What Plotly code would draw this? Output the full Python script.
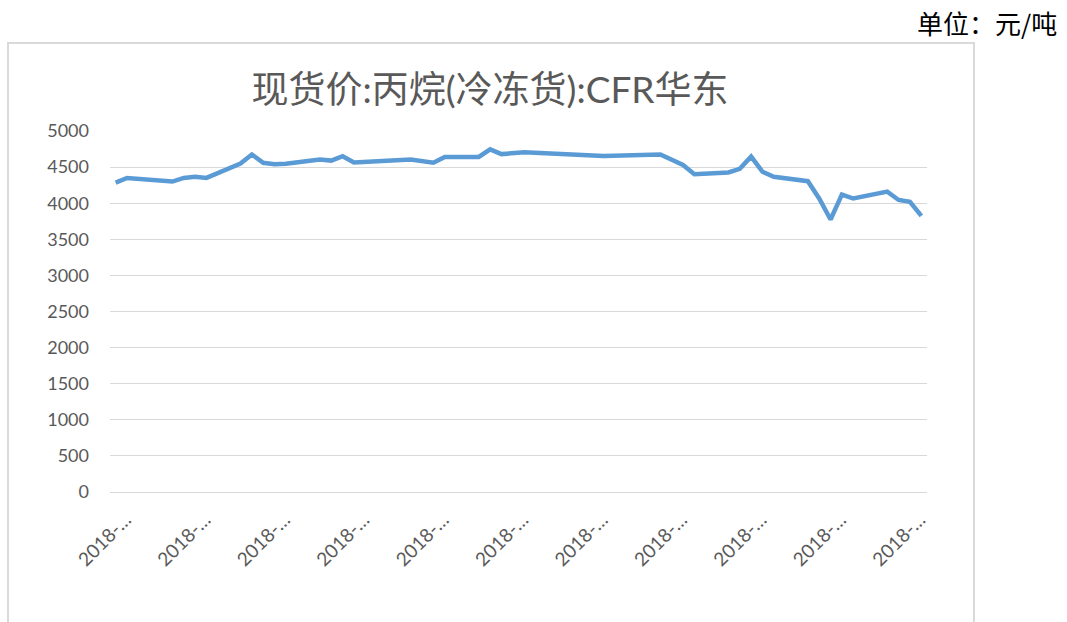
import plotly.graph_objects as go

# category index of each observation (daily series, 72 categories) and price in 元/吨
obs_index = [0, 1, 5, 6, 7, 8, 11, 12, 13, 14, 15, 18, 19, 20, 21, 22, 26, 28, 29, 32, 33, 34,
             36, 43, 48, 50, 51, 54, 55, 56, 57, 58, 61, 62, 63, 64, 65, 68, 69, 70, 71]
price = [4285, 4350, 4300, 4350, 4365, 4350, 4550, 4675, 4560, 4540, 4545, 4605, 4590, 4650,
         4565, 4570, 4605, 4560, 4640, 4640, 4745, 4680, 4705, 4655, 4675, 4530, 4400, 4425,
         4475, 4645, 4435, 4365, 4305, 4065, 3775, 4120, 4065, 4160, 4045, 4020, 3825]
tick_index = [0, 7, 14, 21, 28, 35, 42, 49, 56, 63, 70]
tick_text = ["2018-…"] * len(tick_index)
title_text = "现货价:丙烷(冷冻货):CFR华东"
unit_text = "单位：元/吨"

W, H = 1067, 622
# target plot-area edges in page pixels
L, R, T, B = 110, 927, 131, 492

def px_x(p):
    return (p - L) / (R - L)

def px_y(p):
    return (B - p) / (B - T)

fig = go.Figure()
fig.add_trace(go.Scatter(
    x=obs_index, y=price, mode="lines",
    line=dict(color="#5b9bd5", width=4.5),
    hoverinfo="skip", showlegend=False,
))

fig.update_layout(
    width=W, height=H,
    margin=dict(l=L, r=W - R, t=T, b=H - B, pad=0),
    paper_bgcolor="white", plot_bgcolor="white",
    font=dict(family="Lato, 'Noto Sans CJK SC', sans-serif", color="#595959"),
    title=dict(
        text=title_text, x=490 / W, xanchor="center", xref="container",
        y=1 - 90 / H, yanchor="middle", yref="container",
        font=dict(size=37, color="#595959", family="Lato, 'Noto Sans CJK SC', sans-serif"),
    ),
    xaxis=dict(
        range=[-0.5, 71.5], tickmode="array", tickvals=tick_index, ticktext=tick_text,
        tickangle=-45, showgrid=False, zeroline=False, showline=False, ticks="",
        ticklabelstandoff=12, ticklabelshift=10,
        tickfont=dict(size=19, color="#595959"),
    ),
    yaxis=dict(
        range=[0, 5000], tickmode="linear", tick0=0, dtick=500,
        showgrid=True, gridcolor="#d9d9d9", gridwidth=1,
        zeroline=True, zerolinecolor="#d9d9d9", zerolinewidth=1,
        showline=False, ticks="", ticklabelstandoff=20,
        tickfont=dict(size=18, color="#595959"),
    ),
    shapes=[dict(
        type="rect", xref="paper", yref="paper",
        x0=px_x(8), x1=px_x(974), y0=px_y(700), y1=px_y(43),
        line=dict(color="#d9d9d9", width=2), fillcolor="rgba(0,0,0,0)", layer="below",
    )],
    annotations=[dict(
        text=unit_text, xref="paper", yref="paper", x=px_x(1058), y=px_y(23),
        xanchor="right", yanchor="middle", showarrow=False, borderpad=0,
        font=dict(size=26, color="#000000", family="'Noto Sans CJK SC', sans-serif"),
    )],
)

fig.write_html("out.html", config={"displayModeBar": False},
               post_script="document.body.style.margin='0';")
